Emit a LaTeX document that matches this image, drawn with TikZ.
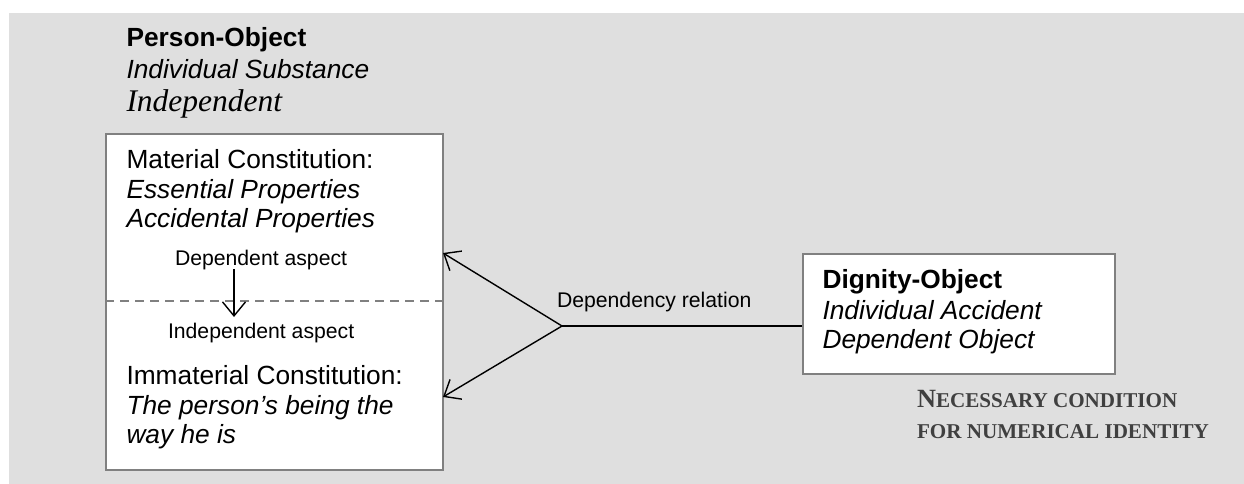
\documentclass[tikz,border=0pt]{standalone}
\usepackage{fontspec}
\setmainfont{Liberation Sans}
\newfontfamily\timesfont{Liberation Serif}
\usetikzlibrary{arrows.meta}
\definecolor{bggrey}{HTML}{DFDFDF}
\definecolor{boxgrey}{HTML}{808080}
\definecolor{notegrey}{HTML}{404040}
\tikzset{
  big/.style={font=\fontsize{26.3}{30}\selectfont},
  small/.style={font=\fontsize{21.2}{24}\selectfont},
  txt/.style={anchor=base west, inner sep=0pt, outer sep=0pt},
  panel/.style={draw=boxgrey, line width=2pt, fill=white},
  conn/.style={line width=1.4pt, black},
  barb/.style={-{Straight Barb[length=14pt,width=23pt,line width=1.4pt]}},
  divider/.style={draw=boxgrey, line width=1.4pt, dash pattern=on 9pt off 6pt},
}
\begin{document}
\begin{tikzpicture}[x=1pt,y=-1pt]
\useasboundingbox (0,0) rectangle (1244,484);
\fill[bggrey] (9,13) rectangle (1244,484);

% left box
\node[panel, anchor=north west, minimum width=337pt, minimum height=336pt, inner sep=0pt] (lbox) at (105,133) {};
\draw[divider] (lbox.west |- 0,301) -- (lbox.east |- 0,301);

% right box
\node[panel, anchor=north west, minimum width=312pt, minimum height=120pt, inner sep=0pt] (rbox) at (802,253) {};

% header texts
\node[txt, big] (po) at (126.5,47) {\textbf{Person-Object}};
\node[txt, big] (is) at (126.5,79) {\textit{Individual Substance}};
\node[txt, font=\timesfont\itshape\fontsize{31.5}{36}\selectfont] (ind) at (126.5,112) {Independent};

% left box texts
\node[txt, big] (mc) at (126.5,168) {Material Constitution:};
\node[txt, big] (ep) at (126.5,198) {\textit{Essential Properties}};
\node[txt, big] (ap) at (126.5,227) {\textit{Accidental Properties}};
\node[txt, small] (da) at (175,265) {Dependent aspect};
\node[txt, small] (ia) at (168,338) {Independent aspect};
\node[txt, big] (ic) at (126.5,384) {Immaterial Constitution:};
\node[txt, big] (pb) at (126.5,414) {\textit{The person’s being the}};
\node[txt, big] (wh) at (126.5,443) {\textit{way he is}};

% right box texts
\node[txt, big] (dob) at (822.5,288) {\textbf{Dignity-Object}};
\node[txt, big] (iac) at (822.5,319) {\textit{Individual Accident}};
\node[txt, big] (dep) at (822.5,348) {\textit{Dependent Object}};

% note
\node[txt, text=notegrey, font=\timesfont\bfseries\fontsize{26.3}{30}\selectfont] (nc1) at (917,407) {N{\fontsize{21.1}{24}\selectfont ECESSARY CONDITION}};
\node[txt, text=notegrey, font=\timesfont\bfseries\fontsize{21.1}{24}\selectfont] (nc2) at (917,438) {FOR NUMERICAL IDENTITY};

% connectors
\coordinate (J) at (562,326);
\coordinate (tipU) at (443,253);
\coordinate (tipL) at (443,397);
\coordinate (vs) at (234,269);
\coordinate (ve) at (234,317);
\draw[conn] (J) -- (J -| rbox.west);
\draw[conn, barb] (J) -- (tipU);
\draw[conn, barb] (J) -- (tipL);
\draw[conn, barb] (vs) -- (ve);
\node[txt, small] (dr) at (557,307) {Dependency relation};
\end{tikzpicture}
\end{document}
